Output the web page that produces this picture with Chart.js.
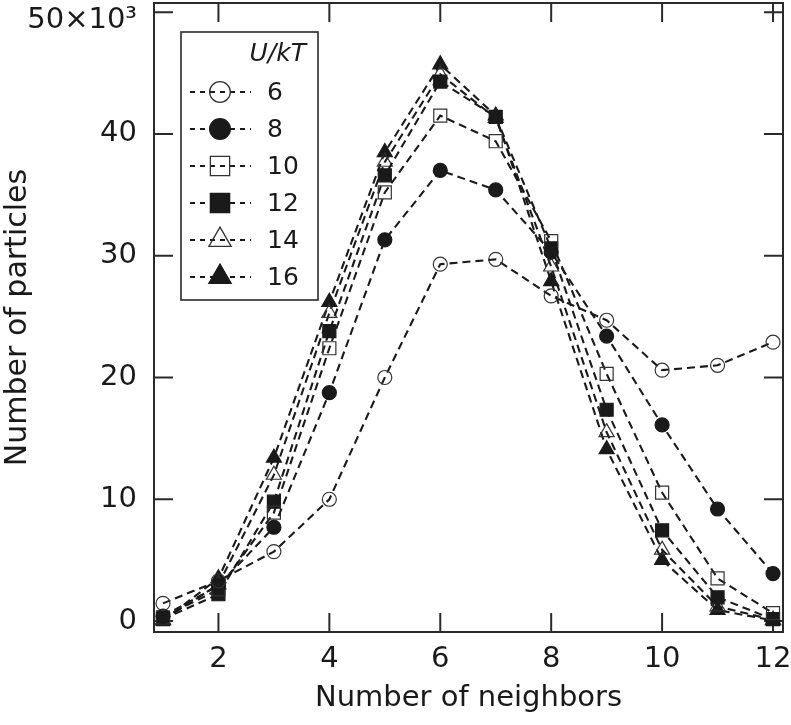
<!DOCTYPE html>
<html>
<head>
<meta charset="utf-8">
<script src="https://cdn.jsdelivr.net/npm/chart.js@4.4.1/dist/chart.umd.min.js"></script>
<style>
  body { margin: 0; background: #fff; }
  canvas { display: block; }
</style>
</head>
<body>
<canvas id="c" width="791" height="725"></canvas>
<script>
// number of particles (x 10^3) vs number of neighbors, one series per U/kT
const neighbors = [1, 2, 3, 4, 5, 6, 7, 8, 9, 10, 11, 12];
const u6  = [1.45, 3.3, 5.7, 10.0, 20.0, 29.3, 29.7, 26.7, 24.7, 20.6, 21.0, 22.9];
const u8  = [0.4, 2.9, 7.7, 18.75, 31.3, 37.0, 35.4, 30.3, 23.4, 16.1, 9.2, 3.9];
const u10 = [0.3, 2.6, 8.9, 22.4, 35.2, 41.5, 39.4, 31.2, 20.3, 10.55, 3.5, 0.65];
const u12 = [0.15, 2.2, 9.8, 23.8, 36.6, 44.3, 41.4, 30.6, 17.35, 7.45, 1.95, 0.15];
const u14 = [0.1, 3.0, 12.0, 25.3, 37.7, 44.9, 41.3, 29.1, 15.5, 5.85, 1.2, 0.1];
const u16 = [0.05, 3.5, 13.4, 26.2, 38.5, 45.7, 41.5, 27.9, 14.1, 5.0, 0.9, 0.05];

const seriesLabels = ['6', '8', '10', '12', '14', '16'];
const xTicks = [2, 4, 6, 8, 10, 12];
const yTicks = [0, 10, 20, 30, 40, 50];

const FONT = '"DejaVu Sans", sans-serif';
const INK = '#1a1a1a';

function pts(arr) {
  return arr.map((v, i) => ({ x: neighbors[i], y: v }));
}

function series(label, data, style, radius, filled) {
  return {
    label: label,
    data: pts(data),
    borderColor: INK,
    borderWidth: 2.1,
    borderDash: [8, 5],
    pointStyle: style,
    pointRadius: radius,
    pointBorderWidth: 1.2,
    pointBorderColor: filled ? INK : '#333',
    pointBackgroundColor: filled ? INK : 'rgba(0,0,0,0)',
    tension: 0
  };
}

const datasets = [
  series(seriesLabels[0], u6, 'circle', 7, false),
  series(seriesLabels[1], u8, 'circle', 7, true),
  series(seriesLabels[2], u10, 'rect', 9.2, false),
  series(seriesLabels[3], u12, 'rect', 9.2, true),
  series(seriesLabels[4], u14, 'triangle', 8.7, false),
  series(seriesLabels[5], u16, 'triangle', 8.7, true)
];

// keep the plot box where the figure has it, whatever the edge labels need
function noEdgePadding(s) {
  s.paddingTop = 0; s.paddingBottom = 0;
  s.paddingLeft = 0; s.paddingRight = 0;
}

// box around the plot with inward ticks on all four sides
const framePlugin = {
  id: 'frame',
  beforeDatasetsDraw(chart) {
    const { ctx, chartArea: a, scales } = chart;
    const len = 19;
    ctx.save();
    ctx.strokeStyle = '#2a2a2a';
    ctx.lineWidth = 2;
    ctx.strokeRect(a.left, a.top, a.right - a.left, a.bottom - a.top);
    ctx.beginPath();
    xTicks.forEach(v => {
      const x = scales.x.getPixelForValue(v);
      ctx.moveTo(x, a.bottom); ctx.lineTo(x, a.bottom - len);
      ctx.moveTo(x, a.top); ctx.lineTo(x, a.top + len);
    });
    yTicks.forEach(v => {
      const y = scales.y.getPixelForValue(v);
      ctx.moveTo(a.left, y); ctx.lineTo(a.left + len, y);
      ctx.moveTo(a.right, y); ctx.lineTo(a.right - len, y);
    });
    ctx.stroke();
    ctx.restore();
  }
};

// boxed legend inside the plot, drawn from the datasets
const legendPlugin = {
  id: 'boxLegend',
  afterDatasetsDraw(chart) {
    const ctx = chart.ctx;
    const box = { left: 181, top: 32, right: 318, bottom: 300 };
    ctx.save();
    ctx.fillStyle = '#fff';
    ctx.fillRect(box.left, box.top, box.right - box.left, box.bottom - box.top);
    ctx.strokeStyle = '#2a2a2a';
    ctx.lineWidth = 1.6;
    ctx.strokeRect(box.left, box.top, box.right - box.left, box.bottom - box.top);

    ctx.fillStyle = INK;
    ctx.font = 'italic 25px ' + FONT;
    ctx.textAlign = 'right';
    ctx.textBaseline = 'middle';
    ctx.fillText('U/kT', 306, 54);

    chart.data.datasets.forEach((ds, i) => {
      const y = 92 + i * 37;
      ctx.save();
      ctx.strokeStyle = ds.borderColor;
      ctx.lineWidth = 2;
      ctx.setLineDash([5, 5]);
      ctx.beginPath();
      ctx.moveTo(190, y); ctx.lineTo(251, y);
      ctx.stroke();
      ctx.restore();

      ctx.fillStyle = ds.pointBackgroundColor;
      ctx.strokeStyle = ds.pointBorderColor;
      ctx.lineWidth = 1.3;
      Chart.helpers.drawPoint(ctx, {
        pointStyle: ds.pointStyle,
        radius: ds.pointRadius * 1.48,
        borderWidth: 1.3,
        rotation: 0
      }, 220, y);

      ctx.fillStyle = INK;
      ctx.font = '25px ' + FONT;
      ctx.textAlign = 'left';
      ctx.textBaseline = 'middle';
      ctx.fillText(ds.label, 267, y + 1);
    });
    ctx.restore();
  }
};

new Chart(document.getElementById('c'), {
  type: 'line',
  data: { datasets: datasets },
  options: {
    responsive: false,
    animation: false,
    events: [],
    layout: { autoPadding: false, padding: { top: 3, right: 8, bottom: 0, left: 0 } },
    plugins: { legend: { display: false }, tooltip: { enabled: false } },
    scales: {
      x: {
        type: 'linear',
        min: 0.838,
        max: 12.18,
        afterBuildTicks: s => { s.ticks = xTicks.map(v => ({ value: v })); },
        afterFit: s => { s.height = 93; noEdgePadding(s); },
        grid: { display: false, drawTicks: false },
        border: { display: false },
        ticks: { color: INK, font: { family: FONT, size: 29 }, padding: 10, maxRotation: 0 },
        title: { display: true, text: 'Number of neighbors', color: INK,
                 font: { family: FONT, size: 29 }, padding: { bottom: 9 } }
      },
      y: {
        min: -0.9,
        max: 50.75,
        afterBuildTicks: s => { s.ticks = yTicks.map(v => ({ value: v })); },
        afterFit: s => { s.width = 154; noEdgePadding(s); },
        grid: { display: false, drawTicks: false },
        border: { display: false },
        ticks: {
          color: INK, font: { family: FONT, size: 29, lineHeight: 0.55 }, padding: 17,
          // top label sits a little below its tick in the figure
          callback: v => v === 50 ? ['', '50×10³'] : String(v)
        },
        title: { display: true, text: 'Number of particles', color: INK,
                 font: { family: FONT, size: 30 }, padding: { top: 0 } }
      }
    }
  },
  plugins: [framePlugin, legendPlugin]
});
</script>
</body>
</html>
